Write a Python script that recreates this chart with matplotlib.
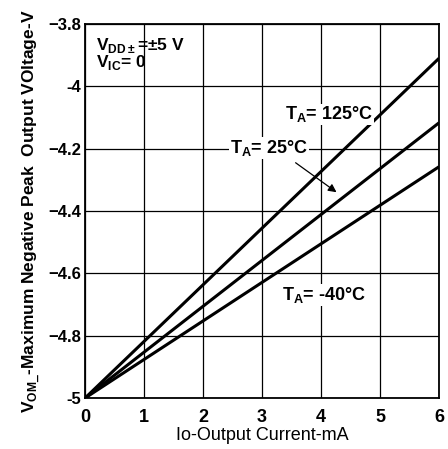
import matplotlib
matplotlib.use("Agg")
import matplotlib.pyplot as plt

plt.rcParams["font.family"] = ["Liberation Sans", "DejaVu Sans"]

# output current (mA) and negative peak output voltage (V) per ambient temperature
current_ma = [0, 6]
vom_125c = [-5.0, -3.91]
vom_25c = [-5.0, -4.117]
vom_m40c = [-5.0, -4.258]

x_ticks = [0, 1, 2, 3, 4, 5, 6]
y_ticks = [-5.0, -4.8, -4.6, -4.4, -4.2, -4.0, -3.8]
y_tick_labels = ["-5", "\u22124.8", "\u22124.6", "\u22124.4", "\u22124.2", "-4", "\u22123.8"]

fig = plt.figure(figsize=(4.48, 4.49), dpi=100)
ax = fig.add_axes([0.19, 0.1136, 0.79, 0.833])

for v in (vom_125c, vom_25c, vom_m40c):
    ax.plot(current_ma, v, color="black", lw=2.2, solid_capstyle="butt")

ax.set_xlim(0, 6)
ax.set_ylim(-5, -3.8)
ax.set_xticks(x_ticks)
ax.set_xticklabels([str(t) for t in x_ticks], fontsize=13, fontweight="bold")
ax.set_yticks(y_ticks)
ax.set_yticklabels(y_tick_labels, fontsize=12, fontweight="bold")
ax.tick_params(axis="x", length=0, pad=8)
ax.tick_params(axis="y", length=0, pad=3)
ax.grid(True, color="black", lw=0.9)
for s in ax.spines.values():
    s.set_linewidth(1.3)

ax.set_xlabel("Io-Output Current-mA", fontsize=13, labelpad=1)
ax.set_ylabel(r"V$_{\mathregular{OM\_}}$-Maximum Negative Peak  Output VOltage-V",
              fontsize=12.5, fontweight="bold", labelpad=4)

deg = "\u00b0"
ax.text(0.18, -3.868, r"V$_{\mathregular{DD\pm}}$=" + "\u00b15 V",
        fontsize=12.5, fontweight="bold", va="center")
ax.text(0.18, -3.925, r"V$_{\mathregular{IC}}$= 0", fontsize=12.5, fontweight="bold", va="center")

label_box = dict(facecolor="white", edgecolor="none", pad=0.5)
ax.text(4.14, -4.09, r"T$_{\mathregular{A}}$= 125" + deg + "C",
        fontsize=13, fontweight="bold", ha="center", va="center", bbox=label_box)
ax.text(3.12, -4.198, r"T$_{\mathregular{A}}$= 25" + deg + "C",
        fontsize=13, fontweight="bold", ha="center", va="center", bbox=label_box)
ax.text(4.05, -4.67, r"T$_{\mathregular{A}}$= -40" + deg + "C",
        fontsize=13, fontweight="bold", ha="center", va="center", bbox=label_box)

ax.annotate("", xy=(4.3, -4.345), xytext=(3.53, -4.24),
            arrowprops=dict(arrowstyle="-|>", color="black", lw=0.9,
                            mutation_scale=12))

fig.savefig("out.png", dpi=100)
